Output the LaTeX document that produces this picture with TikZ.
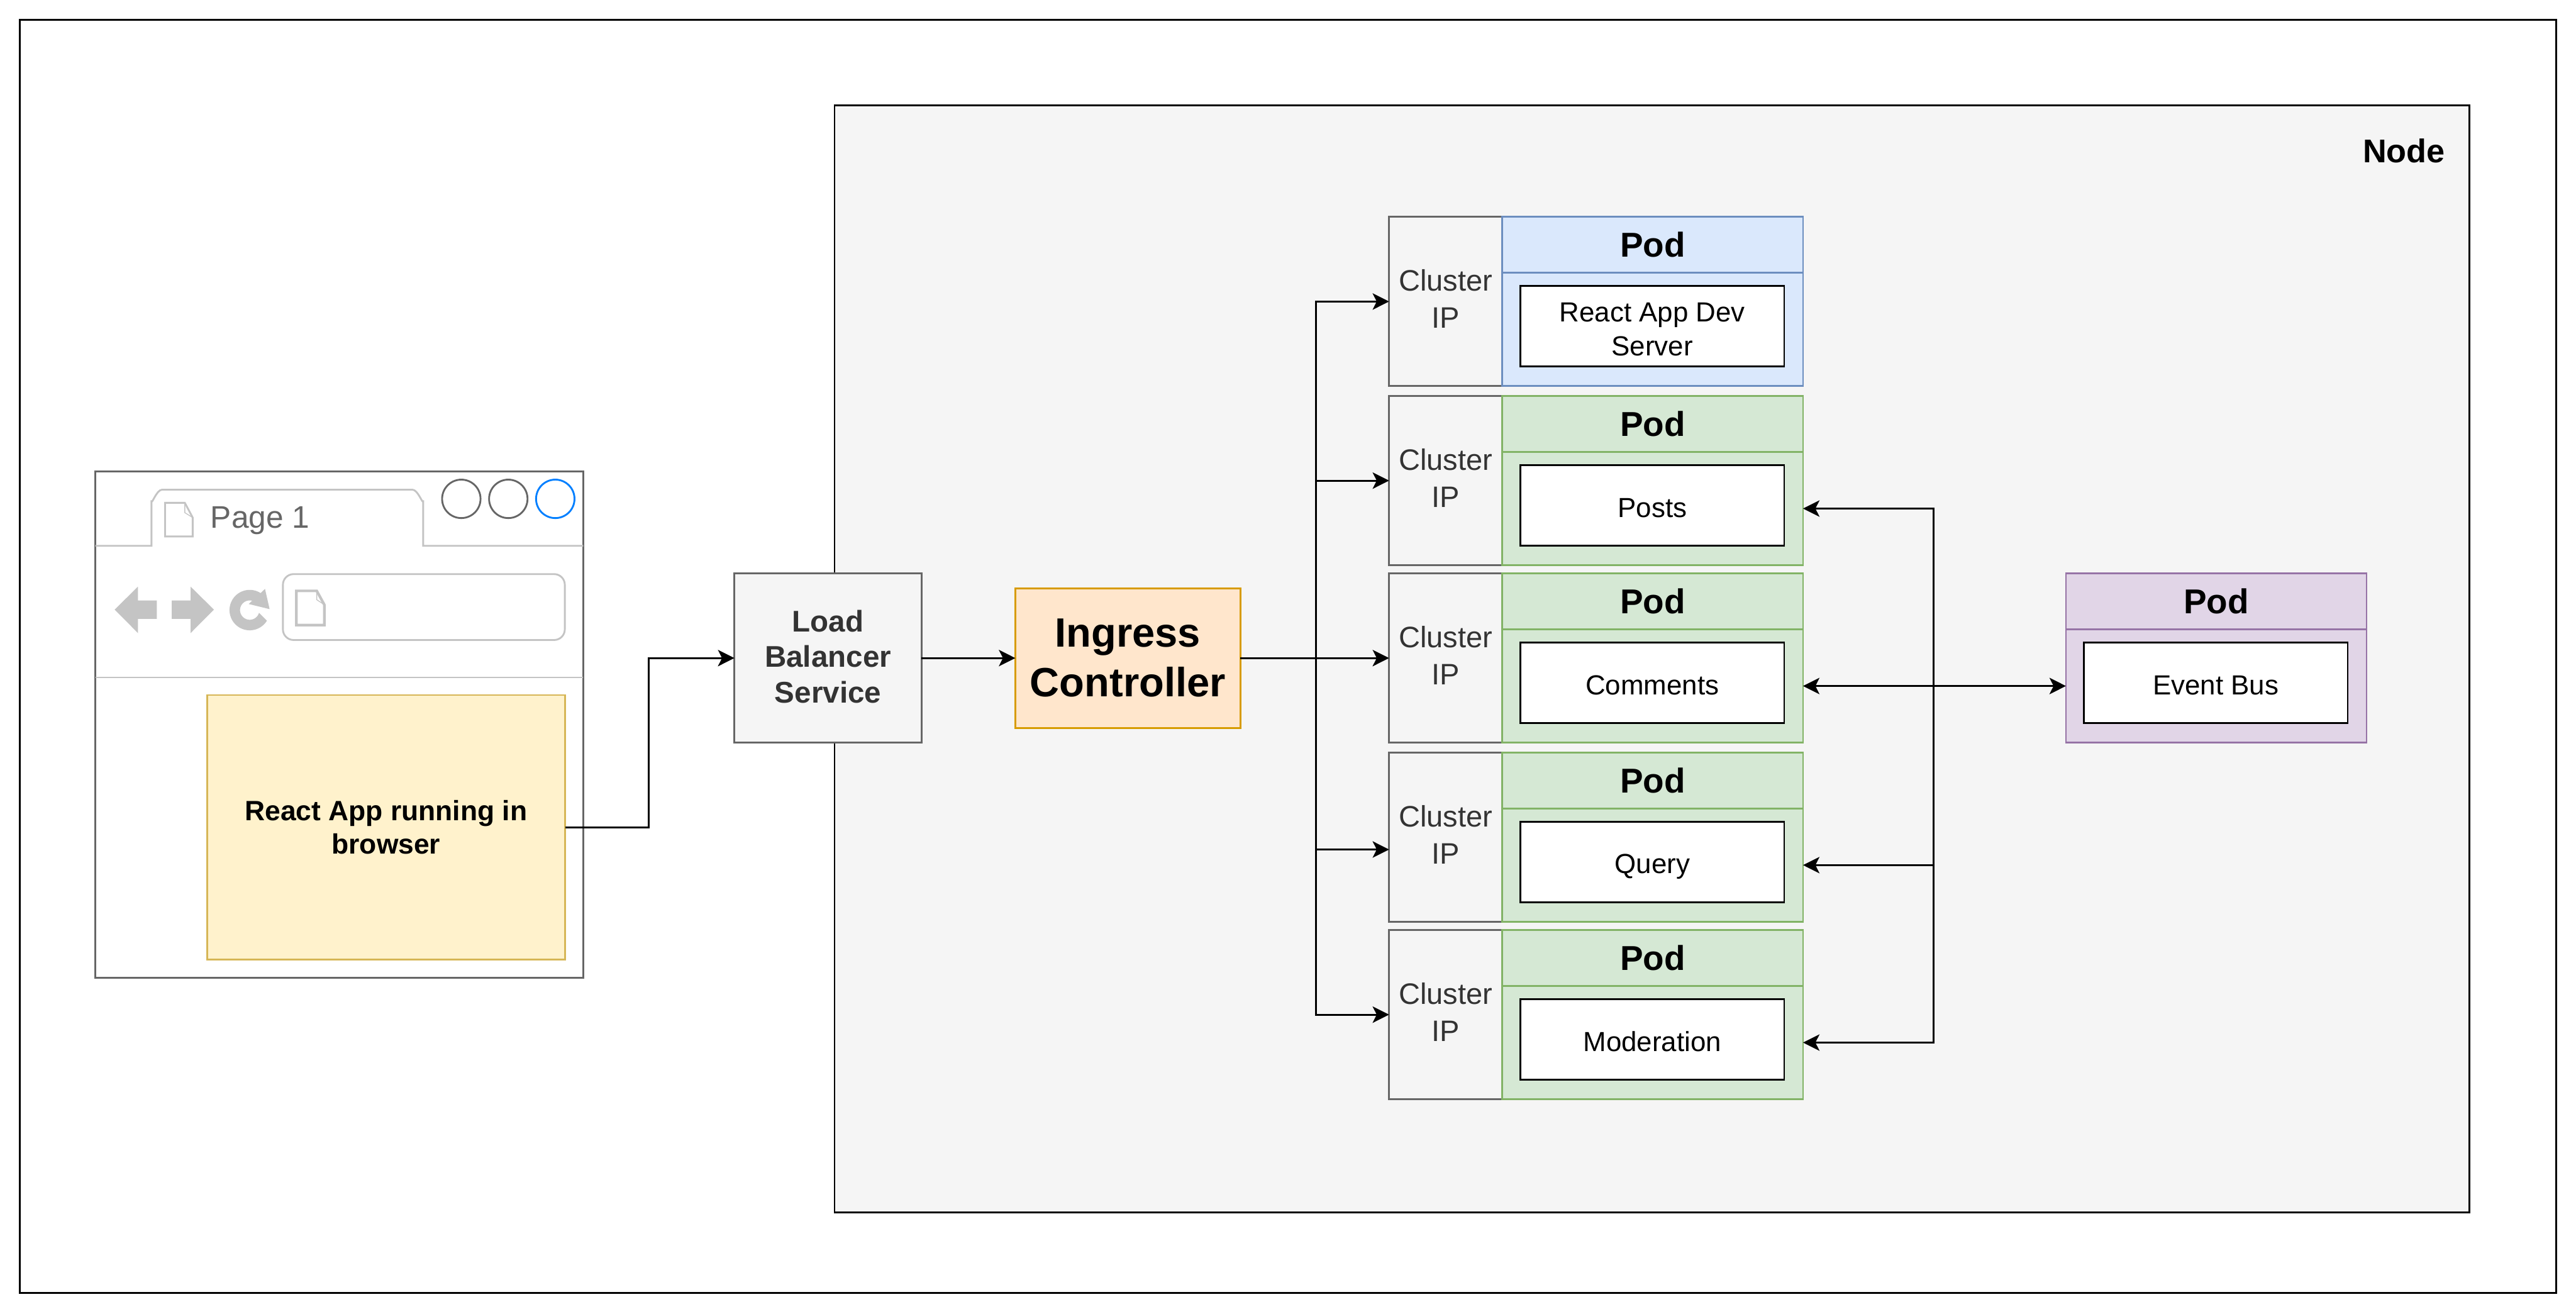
\documentclass[tikz,border=0pt]{standalone}
\usepackage{fontspec}
\setmainfont{Liberation Sans}
\usetikzlibrary{arrows.meta,calc}
\definecolor{gborder}{HTML}{666666}
\definecolor{gtext}{HTML}{333333}
\definecolor{gfill}{HTML}{F5F5F5}
\definecolor{wire}{HTML}{C4C4C4}
\definecolor{bluestroke}{HTML}{6C8EBF}\definecolor{bluefill}{HTML}{DAE8FC}
\definecolor{greenstroke}{HTML}{82B366}\definecolor{greenfill}{HTML}{D5E8D4}
\definecolor{purplestroke}{HTML}{9673A6}\definecolor{purplefill}{HTML}{E1D5E7}
\definecolor{yellowstroke}{HTML}{D6B656}\definecolor{yellowfill}{HTML}{FFF2CC}
\definecolor{ingstroke}{HTML}{D79B00}\definecolor{ingfill}{HTML}{FFE6CC}
\definecolor{addrblue}{HTML}{007FFF}
\tikzset{
  bx/.style={draw,line width=1.1pt,rectangle,inner sep=0pt,outer sep=0pt,align=center,anchor=north west},
  grayb/.style={bx,draw=gborder,fill=gfill,text=gtext},
  podhead/.style={bx,minimum width=183pt,minimum height=34pt,font=\bfseries\fontsize{21}{25}\selectfont},
  podbody/.style={bx,minimum width=183pt,minimum height=69pt},
  svc/.style={bx,draw=black,fill=white,minimum width=160.5pt,minimum height=49pt,font=\fontsize{16.8}{20.5}\selectfont},
  svcone/.style={svc,text height=14.4pt,text depth=0pt},
  svctwo/.style={svc,text height=35.7pt,text depth=0pt},
  cip/.style={grayb,minimum width=69pt,minimum height=103pt,text height=35.6pt,text depth=3pt,font=\fontsize{18}{22.6}\selectfont},
  blue/.style={draw=bluestroke,fill=bluefill},
  green/.style={draw=greenstroke,fill=greenfill},
  purple/.style={draw=purplestroke,fill=purplefill},
  dot/.style={circle,line width=1.1pt,minimum size=23.4pt,inner sep=0pt},
  link/.style={line width=1.1pt,-{Stealth[length=10pt,width=10pt,inset=2.5pt]}},
  dlink/.style={line width=1.1pt,{Stealth[length=10pt,width=10pt,inset=2.5pt]}-{Stealth[length=10pt,width=10pt,inset=2.5pt]}},
  wirel/.style={draw=wire,line width=1.1pt},
  wiref/.style={fill=wire,draw=none},
}
\begin{document}
\begin{tikzpicture}[x=1pt,y=-1pt]
\useasboundingbox (0,0) rectangle (1568,799.4);
\fill[white] (0,0) rectangle (1568,799.4);
% frames
\node[bx,draw=black,fill=white,minimum width=1544pt,minimum height=775pt] (outer) at (12,12) {};
\node[bx,draw=black,fill=gfill,minimum width=995pt,minimum height=674pt] (node) at (508,64) {};
\node[anchor=base east,inner sep=0pt,font=\bfseries\fontsize{20}{24}\selectfont] (nodelabel) at (1488.5,99) {Node};
% browser
\node[bx,draw=gborder,fill=white,minimum width=297pt,minimum height=308pt] (browser) at (58,287) {};
\draw[wirel] (58,332.2) -- (92.2,332.2) -- (92.2,304.5) to[out=-90,in=180] (98.7,298) -- (251,298) to[out=0,in=-90] (257.6,304.5) -- (257.6,332.2) -- (355,332.2);
\draw[wirel] (58,412.3) -- (355,412.3);
\draw[wirel,line join=miter] (100.5,306) -- (112.5,306) -- (117.3,315) -- (117.3,326.5) -- (100.5,326.5) -- cycle;
\draw[wire,line width=.5pt] (112.5,306) -- (112.5,312) -- (117.3,315);
\node[anchor=base west,text=gborder,inner sep=0pt,font=\fontsize{19}{23}\selectfont] (pagelabel) at (128,321.5) {Page 1};
\node[dot,draw=gborder] (c1) at (280.8,303.6) {};
\node[dot,draw=gborder] (c2) at (309.4,303.6) {};
\node[dot,draw=addrblue] (c3) at (338,303.6) {};
\fill[wiref] (69.8,371) -- (84,357) -- (84,365.4) -- (95.5,365.4) -- (95.5,376.6) -- (84,376.6) -- (84,385.3) -- cycle;
\fill[wiref] (130.2,371) -- (116,357) -- (116,365.4) -- (104.6,365.4) -- (104.6,376.6) -- (116,376.6) -- (116,385.3) -- cycle;
\fill[wiref] plot[domain=31.5:302.6,samples=50] ({152+12.3*cos(\x)},{371.3+12.3*sin(\x)})
  -- (161.3,358.4) -- (164.1,370.7) -- (151.4,367.6) -- (153.5,365.6)
  -- plot[domain=285:16,samples=40] ({152+5.9*cos(\x)},{371.3+5.9*sin(\x)}) -- cycle;
\draw[wirel,rounded corners=6.5pt] (172.2,349.4) rectangle (343.8,389.5);
\draw[wirel,line join=miter,line width=1.6pt] (180.4,359.6) -- (192.8,359.6) -- (197.4,368) -- (197.4,380.4) -- (180.4,380.4) -- cycle;
\draw[wire,line width=.5pt] (192.8,359.6) -- (192.8,365) -- (197.4,368);
\node[bx,draw=yellowstroke,fill=yellowfill,minimum width=218pt,minimum height=161pt,font=\bfseries\fontsize{17}{20.5}\selectfont] (react) at (126,423) {React App running in\\browser};
% services
\node[grayb,minimum width=114pt,minimum height=103pt,text height=56.7pt,text depth=2pt,font=\bfseries\fontsize{18.2}{21.7}\selectfont] (lb) at (447,349) {Load\\Balancer\\Service};
\node[bx,draw=ingstroke,fill=ingfill,minimum width=137pt,minimum height=85pt,text height=48pt,text depth=1.4pt,font=\bfseries\fontsize{24.9}{30}\selectfont] (ingress) at (618,358) {Ingress\\Controller};
% cluster IPs and pods
\node[cip] (cl1) at (845.5,132) {Cluster\\IP};
\node[cip] (cl2) at (845.5,241) {Cluster\\IP};
\node[cip] (cl3) at (845.5,349) {Cluster\\IP};
\node[cip] (cl4) at (845.5,458) {Cluster\\IP};
\node[cip] (cl5) at (845.5,566) {Cluster\\IP};
\node[podhead,blue] (h1) at (914.5,132) {Pod};
\node[podbody,blue] (b1) at (914.5,166) {};
\node[svctwo] (s1) at (925.5,174) {React App Dev\\Server};
\node[podhead,green] (h2) at (914.5,241) {Pod};
\node[podbody,green] (b2) at (914.5,275) {};
\node[svcone] (s2) at (925.5,283) {Posts};
\node[podhead,green] (h3) at (914.5,349) {Pod};
\node[podbody,green] (b3) at (914.5,383) {};
\node[svcone] (s3) at (925.5,391) {Comments};
\node[podhead,green] (h4) at (914.5,458) {Pod};
\node[podbody,green] (b4) at (914.5,492) {};
\node[svcone] (s4) at (925.5,500) {Query};
\node[podhead,green] (h5) at (914.5,566) {Pod};
\node[podbody,green] (b5) at (914.5,600) {};
\node[svcone] (s5) at (925.5,608) {Moderation};
\node[podhead,purple] (h6) at (1257.5,349) {Pod};
\node[podbody,purple] (b6) at (1257.5,383) {};
\node[svcone] (s6) at (1268.5,391) {Event Bus};
% connectors
\coordinate (elbow) at (395,450);
\coordinate (trunk) at (801,400.5);
\coordinate (j4) at (801,517);
\coordinate (bus) at (1177,417.5);
\draw[link] (react.east) -| (elbow) |- (lb.west);
\draw[link] (lb.east) -- (ingress.west);
\draw[link] (ingress.east) -- (cl3.west);
\draw[link] (trunk) |- (cl1.west);
\draw[link] (trunk) |- (cl2.west);
\draw[link] (trunk) |- (cl5.west);
\draw[link] (j4) -- (j4 -| cl4.west);
\draw[link] (bus) |- (b2.east);
\draw[link] (bus) |- (b4.east);
\draw[link] (bus) |- (b5.east);
\draw[dlink] (b3.east) -- (b6.west);
\end{tikzpicture}
\end{document}
